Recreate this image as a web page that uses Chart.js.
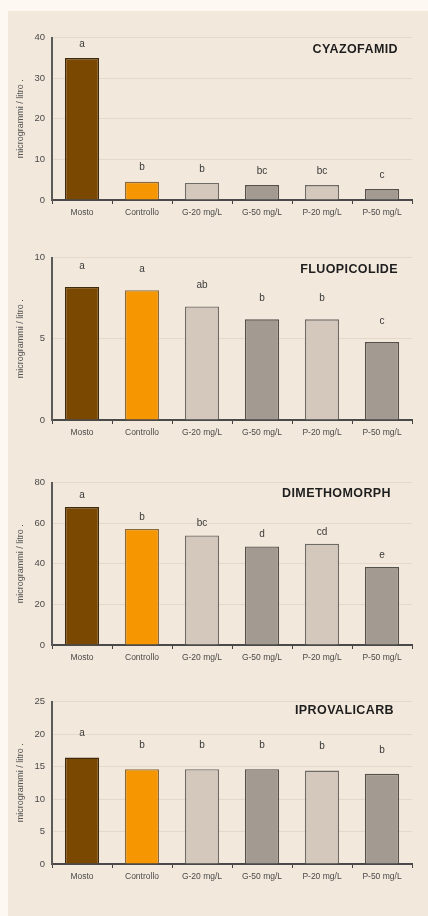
<!DOCTYPE html>
<html>
<head>
<meta charset="utf-8">
<script src="https://cdn.jsdelivr.net/npm/chart.js@4.4.1/dist/chart.umd.min.js"></script>
<style>
  html, body { margin: 0; padding: 0; background: #fdf8f1; }
  body { width: 428px; height: 916px; position: relative; overflow: hidden; }
  #panel { position: absolute; left: 8px; top: 11px; width: 420px; height: 905px; background: #f3e8dc; }
  canvas { position: absolute; left: 0; }
</style>
</head>
<body>
<div id="panel"></div>
<canvas id="c1" width="428" height="205" style="top:25px"></canvas>
<canvas id="c2" width="428" height="205" style="top:245px"></canvas>
<canvas id="c3" width="428" height="205" style="top:470px"></canvas>
<canvas id="c4" width="428" height="205" style="top:689px"></canvas>
<script>
// ---- data ----
const categories = ["Mosto", "Controllo", "G-20 mg/L", "G-50 mg/L", "P-20 mg/L", "P-50 mg/L"];
const yAxisTitle = "microgrammi / litro .";

const cyazofamidValues = [35.0, 4.5, 4.2, 3.7, 3.7, 2.7];
const cyazofamidLetters = ["a", "b", "b", "bc", "bc", "c"];
const cyazofamidTicks = [0, 10, 20, 30, 40];

const fluopicolideValues = [8.2, 8.0, 7.0, 6.2, 6.2, 4.8];
const fluopicolideLetters = ["a", "a", "ab", "b", "b", "c"];
const fluopicolideTicks = [0, 5, 10];

const dimethomorphValues = [68.0, 57.2, 54.0, 48.6, 49.9, 38.4];
const dimethomorphLetters = ["a", "b", "bc", "d", "cd", "e"];
const dimethomorphTicks = [0, 20, 40, 60, 80];

const iprovalicarbValues = [16.4, 14.6, 14.6, 14.6, 14.4, 13.9];
const iprovalicarbLetters = ["a", "b", "b", "b", "b", "b"];
const iprovalicarbTicks = [0, 5, 10, 15, 20, 25];

const chartTitles = ["CYAZOFAMID", "FLUOPICOLIDE", "DIMETHOMORPH", "IPROVALICARB"];

// ---- styles ----
const FONT = "'Liberation Sans', Arial, sans-serif";
const fillColors = ["#7a4800", "#f69600", "#d3c8bb", "#a39a91", "#d3c8bb", "#a39a91"];
const borderColors = ["#3f2a10", "#8a6a3a", "#6e6a66", "#55504b", "#6e6a66", "#55504b"];

const annotPlugin = {
  id: 'annot',
  afterDatasetsDraw(chart, args, opts) {
    const ctx = chart.ctx;
    const meta = chart.getDatasetMeta(0);
    ctx.save();
    ctx.fillStyle = '#3a3a3a';
    ctx.font = '10px ' + FONT;
    ctx.textAlign = 'center';
    ctx.textBaseline = 'middle';
    meta.data.forEach((bar, i) => {
      ctx.fillText(opts.letters[i], bar.x, bar.y - opts.letterOffset);
    });
    const ca = chart.chartArea;
    ctx.fillStyle = '#1e1e1e';
    ctx.font = 'bold 12.5px ' + FONT;
    ctx.letterSpacing = '0.4px';
    ctx.textAlign = 'right';
    ctx.fillText(opts.title, ca.right - opts.titleRight, ca.top + opts.titleDy);
    ctx.restore();
  }
};

function makeChart(id, values, letters, ticks, title, letterOffset, titleRight, titleDy) {
  const maxV = ticks[ticks.length - 1];
  const step = ticks[1] - ticks[0];
  return new Chart(document.getElementById(id), {
    type: 'bar',
    data: {
      labels: categories,
      datasets: [{
        data: values,
        backgroundColor: fillColors,
        borderColor: borderColors,
        borderWidth: 1.4,
        categoryPercentage: 1.0,
        barPercentage: 0.57
      }]
    },
    options: {
      responsive: false,
      animation: false,
      events: [],
      layout: { padding: { top: 10, left: 0, right: 16, bottom: 0 } },
      plugins: {
        legend: { display: false },
        tooltip: { enabled: false },
        annot: { letters, title, letterOffset, titleRight, titleDy }
      },
      scales: {
        x: {
          afterFit(s) { s.height = 30; },
          grid: { display: true, drawOnChartArea: false, drawTicks: true, tickLength: 4, color: '#444', offset: true },
          border: { color: '#4a4a4a', width: 2 },
          ticks: { color: '#4a4a4a', font: { family: FONT, size: 8.5 }, padding: 4, maxRotation: 0, autoSkip: false }
        },
        y: {
          min: 0, max: maxV,
          afterFit(s) { s.width = 52; },
          afterBuildTicks(s) { s.ticks = ticks.map(v => ({ value: v })); },
          grid: { color: '#e4d9cb', lineWidth: 1, drawTicks: false },
          border: { color: '#5a5a5a', width: 2 },
          ticks: { color: '#4a4a4a', font: { family: FONT, size: 9.5 }, padding: 7, stepSize: step },
          title: { display: true, text: yAxisTitle, color: '#555', font: { family: FONT, size: 9 }, padding: { top: 15, bottom: 0 } }
        }
      }
    },
    plugins: [annotPlugin]
  });
}

makeChart('c1', cyazofamidValues, cyazofamidLetters, cyazofamidTicks, chartTitles[0], 14, 14, 12);
makeChart('c2', fluopicolideValues, fluopicolideLetters, fluopicolideTicks, chartTitles[1], 21, 14, 12);
makeChart('c3', dimethomorphValues, dimethomorphLetters, dimethomorphTicks, chartTitles[2], 12, 21, 11);
makeChart('c4', iprovalicarbValues, iprovalicarbLetters, iprovalicarbTicks, chartTitles[3], 24, 18, 9);
</script>
</body>
</html>
